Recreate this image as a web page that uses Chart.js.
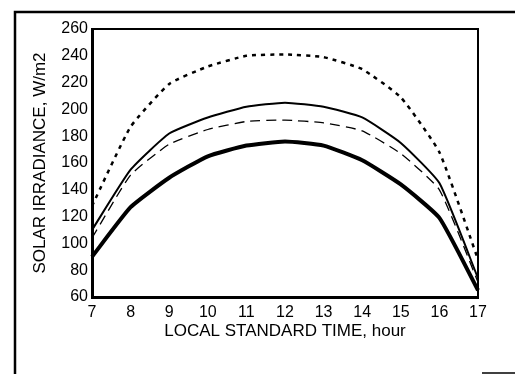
<!DOCTYPE html>
<html>
<head>
<meta charset="utf-8">
<script src="https://cdn.jsdelivr.net/npm/chart.js@4/dist/chart.umd.min.js"></script>
<style>
  body { margin: 0; background: #fff; }
  canvas { display: block; }
</style>
</head>
<body>
<canvas id="myChart" width="515" height="374"></canvas>
<script>
var ctx = document.getElementById('myChart').getContext('2d');

// hours of the day (local standard time)
var hours = ['7', '8', '9', '10', '11', '12', '13', '14', '15', '16', '17'];

// solar irradiance, W/m2, one array per curve
var dottedCurve = [128, 187, 219, 232, 240, 241, 239, 230, 209, 168, 88];
var thinCurve   = [110, 155, 182, 194, 202, 205, 202, 194, 175, 145, 74];
var dashedCurve = [104, 151, 174, 185, 191, 192, 190, 184, 167, 140, 71];
var thickCurve  = [90, 127, 149, 165, 173, 176, 173, 162, 144, 119, 65];

var yMin = 60, yMax = 260, yStep = 20;

var font = 'Liberation Sans, Arial, Helvetica, sans-serif';

// frame round the plot plus the page border lines
var framePlugin = {
  id: 'frame',
  afterDraw: function(chart) {
    var c = chart.ctx;
    var a = chart.chartArea;
    c.save();
    c.strokeStyle = '#000';
    c.lineWidth = 2;
    c.beginPath();
    c.moveTo(a.left, a.top);
    c.lineTo(a.right, a.top);
    c.lineTo(a.right, a.bottom);
    c.stroke();
    // outer border
    c.lineWidth = 2.5;
    c.beginPath();
    c.moveTo(15, 374);
    c.lineTo(15, 12);
    c.lineTo(515, 12);
    c.stroke();
    c.lineWidth = 1.5;
    c.beginPath();
    c.moveTo(482, 373);
    c.lineTo(515, 373);
    c.stroke();
    c.restore();
  }
};

new Chart(ctx, {
  type: 'line',
  data: {
    labels: hours,
    datasets: [{
      data: dottedCurve,
      borderColor: '#000',
      borderWidth: 2.5,
      borderDash: [4, 5],
      pointRadius: 0,
      tension: 0.15
    }, {
      data: thinCurve,
      borderColor: '#000',
      borderWidth: 2,
      pointRadius: 0,
      tension: 0.15
    }, {
      data: dashedCurve,
      borderColor: '#000',
      borderWidth: 1.3,
      borderDash: [10, 6],
      pointRadius: 0,
      tension: 0.15
    }, {
      data: thickCurve,
      borderColor: '#000',
      borderWidth: 4,
      pointRadius: 0,
      tension: 0.15
    }]
  },
  options: {
    responsive: false,
    animation: false,
    layout: {
      padding: { left: 0, top: 29, right: 37, bottom: 0 }
    },
    plugins: {
      legend: { display: false },
      tooltip: { enabled: false }
    },
    scales: {
      x: {
        offset: false,
        grid: { display: false, drawTicks: false },
        border: { display: true, color: '#000', width: 3 },
        ticks: {
          color: '#000',
          padding: 6,
          maxRotation: 0,
          font: { family: font, size: 16 }
        },
        title: {
          display: true,
          text: 'LOCAL STANDARD TIME, hour',
          color: '#000',
          padding: { top: 0, bottom: 32 },
          font: { family: font, size: 17 }
        },
        afterFit: function(scale) { scale.height = 77; }
      },
      y: {
        min: yMin,
        max: yMax,
        grid: { display: false, drawTicks: false },
        border: { display: true, color: '#000', width: 3 },
        ticks: {
          stepSize: yStep,
          color: '#000',
          padding: 4,
          font: { family: font, size: 16 }
        },
        title: {
          display: true,
          text: 'SOLAR IRRADIANCE, W/m2',
          color: '#000',
          padding: { top: 30, bottom: 0 },
          font: { family: font, size: 17 }
        },
        afterFit: function(scale) { scale.width = 92; }
      }
    }
  },
  plugins: [framePlugin]
});
</script>
</body>
</html>
